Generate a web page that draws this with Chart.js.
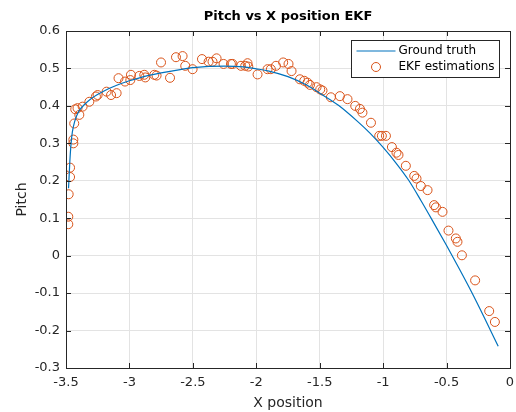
<!DOCTYPE html>
<html lang="en">
<head>
  <meta charset="UTF-8">
  <title>Pitch vs X position EKF</title>
  <script src="https://cdn.jsdelivr.net/npm/chart.js"></script>
  <style>
    html, body { margin: 0; padding: 0; background: #fff; }
    #wrap { width: 516px; height: 412px; }
  </style>
</head>
<body>
  <div id="wrap"><canvas id="pitchChart" width="516" height="412"></canvas></div>

  <script>
    // ground truth trajectory
    const truthX = [-3.48, -3.47, -3.46, -3.45, -3.43, -3.40, -3.35, -3.30, -3.20, -3.10, -3.00,
      -2.90, -2.75, -2.60, -2.50, -2.40, -2.25, -2.10, -2.00, -1.90, -1.75, -1.60, -1.50, -1.35,
      -1.20, -1.10, -1.00, -0.90, -0.80, -0.70, -0.60, -0.50, -0.40, -0.30, -0.20, -0.093];
    const truthY = [0.18, 0.25, 0.30, 0.33, 0.36, 0.385, 0.405, 0.42, 0.44, 0.455, 0.467,
      0.477, 0.488, 0.497, 0.502, 0.505, 0.506, 0.504, 0.499, 0.493, 0.478, 0.455, 0.434, 0.401,
      0.358, 0.326, 0.289, 0.248, 0.202, 0.146, 0.087, 0.027, -0.035, -0.099, -0.167, -0.242];

    // filter estimates
    const ekfX = [-3.482, -3.482, -3.479, -3.468, -3.468, -3.442, -3.442, -3.435, -3.427, -3.409,
      -3.395, -3.369, -3.316, -3.264, -3.251, -3.180, -3.145, -3.101, -3.086, -3.035, -2.993,
      -2.988, -2.922, -2.883, -2.875, -2.804, -2.786, -2.751, -2.680, -2.633, -2.581, -2.560,
      -2.502, -2.428, -2.376, -2.345, -2.313, -2.258, -2.200, -2.187, -2.121, -2.087, -2.069,
      -2.063, -1.990, -1.911, -1.885, -1.845, -1.788, -1.746, -1.722, -1.656, -1.622, -1.596,
      -1.577, -1.525, -1.496, -1.478, -1.412, -1.341, -1.281, -1.220, -1.183, -1.163, -1.096,
      -1.031, -1.010, -0.978, -0.931, -0.895, -0.879, -0.821, -0.755, -0.737, -0.703, -0.650,
      -0.598, -0.584, -0.532, -0.485, -0.427, -0.414, -0.379, -0.275, -0.164, -0.119];
    const ekfY = [0.084, 0.104, 0.164, 0.21, 0.235, 0.30, 0.31, 0.353, 0.391, 0.394,
      0.376, 0.398, 0.411, 0.425, 0.429, 0.438, 0.429, 0.434, 0.474, 0.465, 0.469,
      0.483, 0.48, 0.483, 0.476, 0.483, 0.481, 0.516, 0.475, 0.53, 0.533, 0.507,
      0.498, 0.525, 0.518, 0.518, 0.527, 0.512, 0.512, 0.512, 0.507, 0.507, 0.514,
      0.505, 0.484, 0.498, 0.498, 0.507, 0.516, 0.512, 0.493, 0.471, 0.467, 0.462,
      0.456, 0.45, 0.444, 0.441, 0.423, 0.426, 0.418, 0.40, 0.392, 0.382, 0.355,
      0.32, 0.32, 0.32, 0.29, 0.275, 0.269, 0.24, 0.213, 0.206, 0.186, 0.175,
      0.135, 0.129, 0.117, 0.067, 0.046, 0.037, 0.001, -0.066, -0.148, -0.177];

    const seriesNames = ['Ground truth', 'EKF estimations'];
    const blue = '#0072BD';
    const orange = '#D95319';
    const axisColor = '#262626';
    const font = 'DejaVu Sans';

    const toPoints = (xs, ys) => xs.map((x, i) => ({ x: x, y: ys[i] }));
    const fmt = (v) => String(Math.round(v * 10) / 10);

    // box, inward ticks, title and legend in the matlab look
    const matlabFrame = {
      id: 'matlabFrame',
      afterDraw(chart) {
        const { ctx, chartArea: a, scales } = chart;
        const len = 5;
        ctx.save();
        ctx.strokeStyle = axisColor;
        ctx.lineWidth = 1;
        ctx.beginPath();
        scales.x.ticks.forEach((t, i) => {
          const px = Math.round(scales.x.getPixelForTick(i)) + 0.5;
          ctx.moveTo(px, a.bottom); ctx.lineTo(px, a.bottom - len);
          ctx.moveTo(px, a.top); ctx.lineTo(px, a.top + len);
        });
        scales.y.ticks.forEach((t, i) => {
          const py = Math.round(scales.y.getPixelForTick(i)) + 0.5;
          ctx.moveTo(a.left, py); ctx.lineTo(a.left + len, py);
          ctx.moveTo(a.right, py); ctx.lineTo(a.right - len, py);
        });
        ctx.stroke();
        ctx.strokeRect(Math.round(a.left) + 0.5, Math.round(a.top) + 0.5,
          Math.round(a.right - a.left), Math.round(a.bottom - a.top));

        // title
        ctx.fillStyle = '#000';
        ctx.font = 'bold 13px "' + font + '"';
        ctx.textAlign = 'center';
        ctx.textBaseline = 'middle';
        ctx.fillText('Pitch vs X position EKF', (a.left + a.right) / 2, 17);

        // legend
        const lx = 351.5, ly = 40.5, lw = 148, lh = 37;
        ctx.fillStyle = '#fff';
        ctx.fillRect(lx, ly, lw, lh);
        ctx.strokeStyle = axisColor;
        ctx.strokeRect(lx, ly, lw, lh);
        ctx.strokeStyle = blue;
        ctx.lineWidth = 1.2;
        ctx.beginPath();
        ctx.moveTo(lx + 5, ly + 10.5); ctx.lineTo(lx + 44, ly + 10.5);
        ctx.stroke();
        ctx.strokeStyle = orange;
        ctx.lineWidth = 1;
        ctx.beginPath();
        ctx.arc(lx + 24.5, ly + 26.5, 4.5, 0, Math.PI * 2);
        ctx.stroke();
        ctx.fillStyle = '#000';
        ctx.font = '12px "' + font + '"';
        ctx.textAlign = 'left';
        ctx.fillText(seriesNames[0], lx + 47, ly + 10.5);
        ctx.fillText(seriesNames[1], lx + 47, ly + 26.5);
        ctx.restore();
      }
    };

    new Chart(document.getElementById('pitchChart'), {
      type: 'scatter',
      data: {
        datasets: [
          {
            type: 'line',
            label: seriesNames[0],
            data: toPoints(truthX, truthY),
            borderColor: blue,
            borderWidth: 1.2,
            pointRadius: 0,
            cubicInterpolationMode: 'monotone',
            fill: false,
          },
          {
            label: seriesNames[1],
            data: toPoints(ekfX, ekfY),
            borderColor: orange,
            backgroundColor: 'rgba(0,0,0,0)',
            borderWidth: 1,
            pointRadius: 4.5,
            pointStyle: 'circle',
          },
        ],
      },
      options: {
        responsive: false,
        animation: false,
        layout: { padding: { top: 31, right: 6, left: 0, bottom: 0 } },
        plugins: {
          legend: { display: false },
          tooltip: { enabled: false },
          title: { display: false },
        },
        scales: {
          x: {
            type: 'linear',
            min: -3.5,
            max: 0,
            ticks: {
              stepSize: 0.5,
              padding: 7,
              color: '#262626',
              font: { family: font, size: 13 },
              callback: (v) => fmt(v),
            },
            grid: { color: '#e3e3e3', drawTicks: false },
            border: { color: axisColor },
            title: {
              display: true,
              text: 'X position',
              color: '#262626',
              font: { family: font, size: 14 },
              padding: { top: 2, bottom: 0 },
            },
            afterFit: (s) => { s.height = 44; s.paddingRight = 0; s.paddingLeft = 0; },
          },
          y: {
            type: 'linear',
            min: -0.3,
            max: 0.6,
            ticks: {
              stepSize: 0.1,
              padding: 6,
              color: '#262626',
              font: { family: font, size: 13 },
              callback: (v) => fmt(v),
            },
            grid: { color: '#e3e3e3', drawTicks: false },
            border: { color: axisColor },
            title: {
              display: true,
              text: 'Pitch',
              color: '#262626',
              font: { family: font, size: 14 },
              padding: { top: 14, bottom: 0 },
            },
            afterFit: (s) => { s.width = 66; s.paddingTop = 0; s.paddingBottom = 0; },
          },
        },
      },
      plugins: [matlabFrame],
    });
  </script>
</body>
</html>
